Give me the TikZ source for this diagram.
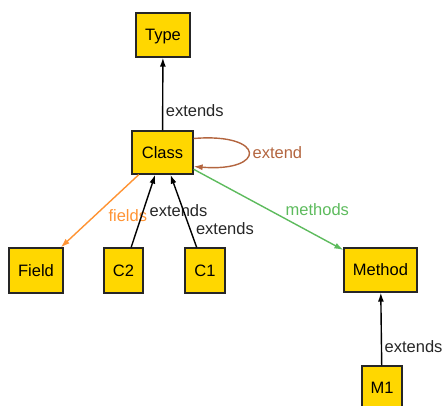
\documentclass[tikz,border=0pt]{standalone}
\usepackage{fontspec}
\setmainfont{Liberation Sans}
\usetikzlibrary{arrows.meta}
\definecolor{kindfill}{HTML}{FFD700}
\definecolor{fieldcol}{HTML}{FF9333}
\definecolor{methodcol}{HTML}{5DBB5D}
\definecolor{loopcol}{HTML}{B3653F}

\begin{document}
\begin{tikzpicture}[x=1pt,y=-1pt,
    every node/.style={font=\fontsize{16.5}{20}\selectfont},
    kind/.style={draw=black!85, fill=kindfill, line width=1.3pt, minimum height=44pt, inner sep=0pt,
        text height=11.8pt, text depth=0pt},
    rel/.style={line width=1.4pt, -{Latex[length=9pt,width=6pt]}},
    lbl/.style={inner sep=1.5pt, text=black!85}]
                \useasboundingbox (0,0) rectangle (442,406);

                % Types
                \node[kind, minimum width=54pt] (type) at (163,35) {Type};
                \node[kind, minimum width=61pt, minimum height=43pt] (cls) at (162.5,152.5) {Class};
                \node[kind, minimum width=54pt, minimum height=45pt] (field) at (36,270.5) {Field};
                \node[kind, minimum width=39pt, minimum height=45pt] (ctwo) at (123.5,270.5) {C2};
                \node[kind, minimum width=40pt, minimum height=45pt] (cone) at (205,270.5) {C1};
                \node[kind, minimum width=73pt] (method) at (380.5,270) {Method};
                \node[kind, minimum width=40pt] (mone) at (382,388) {M1};

                % Class extends Type
                \draw[rel] (cls) -- node[lbl, right=1pt, pos=0.27] {extends} (type);

                % Self loop on Class
                \draw[rel, loopcol] ([yshift=14pt]cls.east) .. controls +(73,-6) and +(73,6) ..
                    node[lbl, right=2pt, pos=0.5, text=loopcol] {extend} ([yshift=-14pt]cls.east);

                % Fields and methods
                \draw[rel, fieldcol] (cls) -- node[lbl, right=12pt, pos=0.57, text=fieldcol] {fields} (field);
                \draw[rel, methodcol] (cls) -- node[lbl, above right, pos=0.6, text=methodcol] {methods} (method);

                % Subtypes
                \draw[rel] (ctwo) -- node[lbl, right=4pt, pos=0.51] {extends} (cls);
                \draw[rel] (cone) -- node[lbl, right=4pt, pos=0.26] {extends} (cls);
                \draw[rel] (mone) -- node[lbl, right=1pt, pos=0.26] {extends} (method);
            \end{tikzpicture}
\end{document}
